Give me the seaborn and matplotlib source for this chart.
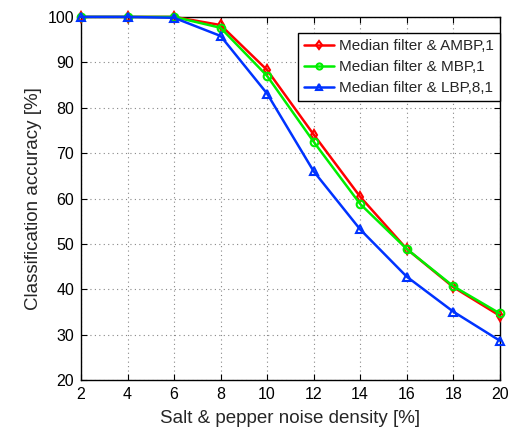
import numpy as np
import pandas as pd
import matplotlib
matplotlib.use("Agg")
import matplotlib.pyplot as plt
import seaborn as sns

# Noise densities (%) and classification accuracies (%)
noise_density = [2, 4, 6, 8, 10, 12, 14, 16, 18, 20]
acc_ambp = [100, 100, 100, 98.2, 88.3, 74.1, 60.4, 48.9, 40.5, 34.2]
acc_mbp = [100, 100, 100, 97.6, 87.0, 72.5, 58.8, 48.9, 40.7, 34.7]
acc_lbp = [100, 100, 99.8, 95.8, 83.1, 66.0, 53.2, 42.8, 35.1, 28.7]

series_names = ["Median filter & AMBP,1", "Median filter & MBP,1", "Median filter & LBP,8,1"]
series_values = [acc_ambp, acc_mbp, acc_lbp]
series_colors = ["#ff0000", "#00ee00", "#0033ff"]
series_markers = ["d", "o", "^"]

df = pd.DataFrame({
    "density": noise_density * len(series_names),
    "accuracy": sum(series_values, []),
    "method": [n for n in series_names for _ in noise_density],
})

sns.set_style("ticks")
plt.rcParams["font.family"] = ["Liberation Sans", "DejaVu Sans"]

fig = plt.figure(figsize=(5.11, 4.33), dpi=100)
ax = fig.add_axes([0.1585, 0.122, 0.8195, 0.839])

for name, color, marker in zip(series_names, series_colors, series_markers):
    sub = df[df["method"] == name]
    sns.lineplot(data=sub, x="density", y="accuracy", ax=ax, color=color,
                 marker=marker, markersize=5.5, markerfacecolor="none",
                 markeredgecolor=color, markeredgewidth=1.5, linewidth=1.8,
                 label=name, clip_on=False, zorder=3)

ax.set_xlim(2, 20)
ax.set_ylim(20, 100)
ax.set_xticks(noise_density)
ax.set_yticks(np.arange(20, 101, 10))
ax.grid(True, linestyle=(0, (1, 3)), color="#888888", linewidth=0.8)
ax.tick_params(direction="in", length=4, labelsize=11.5, top=True, right=True,
               colors="black", pad=5)
for s in ax.spines.values():
    s.set_visible(True)
    s.set_color("black")
    s.set_linewidth(1.0)

ax.set_xlabel("Salt & pepper noise density [%]", fontsize=13.5, labelpad=6)
ax.set_ylabel("Classification accuracy [%]", fontsize=13.5, labelpad=4)

leg = ax.legend(loc="upper right", bbox_to_anchor=(1.0, 0.955), fontsize=11,
                frameon=True, fancybox=False, edgecolor="black",
                handlelength=2.0, borderaxespad=0.0, labelspacing=0.45,
                handletextpad=0.3, borderpad=0.4, markerscale=0.8)
leg.get_frame().set_linewidth(1.0)
leg.get_frame().set_alpha(1)
leg.set_zorder(5)

fig.savefig("out.png", dpi=100)
